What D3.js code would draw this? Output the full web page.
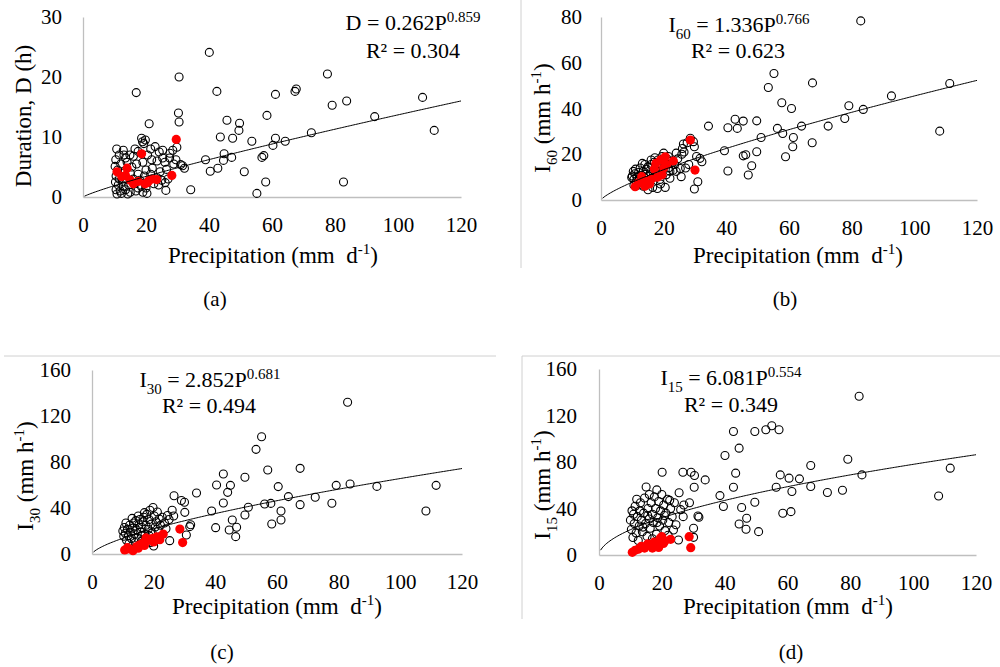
<!DOCTYPE html>
<html>
<meta charset="utf-8">
<style>
    body { margin: 0; background: #fff; }
    svg text, svg tspan { font-family: "Liberation Serif", "Times New Roman", serif !important; fill: #000; }
    .axis path { stroke: #bfbfbf; stroke-width: 1.3; }
    .axis line { display: none; }
    .frame { stroke: #d0d0d0; stroke-width: 1; }
</style>
<body>
<script src="https://d3js.org/d3.v7.min.js"></script>
<script>

    var serif = "'Liberation Serif', 'Times New Roman', serif";

    // tick labels
    var xTicks = [0, 20, 40, 60, 80, 100, 120];
    var yTicksA = [0, 10, 20, 30];
    var yTicksB = [0, 20, 40, 60, 80];
    var yTicksCD = [0, 40, 80, 120, 160];

    // fitted power curves  y = a * P^b
    var coefs = [0.262, 1.336, 2.852, 6.081];
    var expos = [0.859, 0.766, 0.681, 0.554];
    var r2s = ["0.304", "0.623", "0.494", "0.349"];
    var captions = ["(a)", "(b)", "(c)", "(d)"];

    // (a) duration D (h) vs precipitation P (mm/d)
    var ptsA = [[40.1,24.1],[30.5,20.0],[16.9,17.4],[42.5,17.6],[77.6,20.5],[67.3,17.6],[67.7,18.0],[61.1,17.1],
        [107.8,16.6],[83.7,16.0],[79.1,15.3],[92.6,13.4],[58.4,13.6],[30.3,14.0],[30.5,12.5],[45.7,12.8],[49.7,12.3],
        [49.5,11.1],[111.5,11.1],[21.0,12.2],[72.5,10.7],[43.6,10.0],[47.5,9.8],[61.1,9.8],[64.2,9.3],[60.3,8.6],
        [53.6,9.3],[29.8,8.3],[44.8,7.2],[47.2,6.6],[44.6,6.1],[38.9,6.2],[56.8,6.6],[57.4,6.9],[40.4,4.3],[42.8,4.8],
        [51.2,4.2],[31.0,5.4],[32.2,4.8],[31.6,5.2],[58.0,2.5],[82.7,2.5],[34.2,1.2],[55.2,0.6],[26.1,2.4],[26.3,1.1],
        [25.3,6.5],[18.6,9.8],[18.9,9.2],[19.3,8.9],[22.9,8.4],[25.3,7.8],[27.6,7.3],[10.7,8.0],[12.8,7.8],[14.9,7.0],
        [10.4,6.2],[10.2,5.1],[13.5,6.5],[16.0,6.8],[17.5,7.6],[20.5,7.0],[21.8,6.2],[23.5,6.0],[26.0,5.8],[27.5,6.5],
        [28.8,5.5],[29.5,6.2],[12.0,5.5],[14.0,5.8],[15.5,5.0],[17.0,5.5],[19.0,5.8],[20.0,4.5],[22.0,4.8],[24.5,4.2],
        [26.5,4.6],[11.0,4.5],[13.0,4.0],[15.0,4.0],[17.5,3.8],[19.5,3.5],[21.5,3.8],[23.5,3.2],[25.0,2.8],[27.0,3.0],
        [10.5,3.5],[11.5,3.0],[12.5,2.6],[14.0,3.0],[16.0,3.0],[18.0,2.8],[20.5,2.5],[22.5,2.2],[10.3,2.5],[11.2,2.0],
        [12.8,1.8],[14.5,2.0],[16.5,2.2],[18.5,1.8],[20.0,1.5],[10.5,1.2],[11.8,1.0],[13.5,1.2],[15.0,0.8],[16.8,1.0],
        [19.0,0.8],[20.3,0.6],[10.8,0.5],[12.2,0.6],[14.2,0.5],[17.5,1.5],[24.0,2.0],[11.5,7.0],[13.0,7.0],[19.8,9.5],
        [16.5,8.0],[21.5,8.0],[24.2,7.5],[28.5,7.8]];
    var redA = [[29.6,9.6],[18.6,7.2],[14.0,4.8],[10.8,4.2],[12.3,3.4],[28.2,3.6],[23.4,2.9],[22.0,3.0],[19.7,2.2],
        [16.0,2.2],[17.5,2.6],[20.5,2.4],[15.0,2.8],[13.5,3.6],[21.0,2.8]];

    // (b) I60 (mm/h)
    var ptsB = [[82.9,78.3],[55.2,55.3],[53.4,49.2],[67.5,51.2],[111.3,50.9],[92.7,45.5],[57.7,42.5],[60.8,40.0],
        [79.1,41.2],[83.7,39.6],[77.8,35.6],[72.5,32.3],[64.0,32.3],[56.3,31.3],[58.0,29.1],[51.1,27.3],[61.4,27.3],
        [61.2,23.3],[67.4,25.0],[108.1,30.1],[49.7,34.6],[42.8,35.3],[45.4,34.5],[43.5,31.3],[40.5,31.6],[34.3,32.3],
        [39.4,21.5],[49.7,21.1],[58.9,18.9],[45.4,19.3],[46.2,19.8],[48.1,15.0],[47.0,10.9],[40.5,12.7],[31.6,18.2],
        [32.2,16.7],[30.5,19.0],[30.9,8.0],[29.8,4.8],[29.8,23.3],[28.5,27.0],[29.5,25.5],[26.3,24.5],[26.0,22.5],
        [26.5,21.0],[25.8,20.0],[27.5,25.0],[25.3,13.8],[25.6,10.2],[27.0,14.0],[28.0,15.5],
        [10.0,10.5],[10.5,9.0],[10.8,11.5],[11.2,8.0],[11.5,10.0],[12.0,12.0],[12.3,9.0],[12.8,10.8],[13.0,7.5],
        [13.5,12.5],[13.8,9.8],[14.2,11.2],[14.5,13.5],[14.8,8.5],[15.0,14.5],[15.3,10.5],[15.8,12.0],[16.0,15.5],
        [16.3,9.5],[16.8,13.0],[17.0,16.5],[17.4,11.0],[17.8,14.5],[18.2,17.5],[18.5,12.5],[18.8,9.0],[19.0,15.5],
        [19.5,19.0],[19.8,13.5],[20.0,20.5],[20.5,16.0],[20.8,11.0],[21.0,18.0],[21.5,14.0],[22.0,12.5],[22.5,17.0],
        [23.0,13.0],[23.5,15.5],[24.0,12.5],[24.5,18.0],[15.0,4.5],[16.5,5.5],[18.0,5.0],[20.5,5.5],[13.5,6.0],
        [11.8,6.5],[19.0,7.0],[22.0,9.5],[12.5,14.0],[14.0,15.5],[10.3,12.5],[11.0,13.5],[17.2,18.5],[13.2,16.0],
        [16.0,17.5],[21.5,19.0],[24.0,20.5],[9.8,9.8],[10.5,6.5]];
    var redB = [[28.5,26.2],[30.0,13.1],[20.5,18.9],[23.1,17.0],[17.5,16.0],[19.0,17.5],[21.0,15.5],[18.0,10.0],
        [16.0,9.0],[14.5,8.0],[13.0,10.2],[12.0,7.5],[10.9,5.8],[14.0,6.0],[19.5,11.0],[17.0,13.5],[20.0,14.0],[15.5,7.0]];

    // (c) I30 (mm/h)
    var ptsC = [[82.9,131.9],[55.0,102.0],[53.2,91.0],[67.5,74.5],[57.0,73.0],[42.6,69.6],[49.6,66.7],[40.4,60.0],
        [44.9,59.7],[60.4,58.6],[79.2,59.7],[83.7,60.9],[92.4,58.8],[111.6,59.7],[44.0,53.6],[33.9,53.0],[26.6,50.7],
        [63.7,49.9],[72.4,49.3],[29.0,46.5],[30.0,45.0],[42.6,44.3],[50.7,40.6],[56.0,43.5],[58.0,44.0],[67.5,42.9],
        [77.8,44.1],[38.8,37.4],[30.1,36.2],[49.6,33.9],[61.3,37.4],[108.3,37.4],[45.5,29.6],[61.3,29.6],[58.3,26.1],
        [40.1,22.9],[46.9,23.2],[44.5,20.9],[46.6,15.1],[31.7,23.8],[32.0,25.5],[30.6,16.5],[25.2,11.6],[26.0,38.0],
        [26.5,33.0],[25.0,30.0],
        [10.0,20.0],[10.3,15.5],[10.5,23.0],[10.8,18.0],[11.2,12.0],[11.5,21.5],[11.8,16.0],[12.2,25.0],[12.5,19.0],
        [12.8,13.5],[13.2,22.5],[13.5,27.0],[13.8,17.5],[14.2,29.0],[14.5,21.0],[14.8,14.0],[15.2,25.5],[15.5,30.0],
        [15.8,19.0],[16.2,23.0],[16.5,28.0],[16.8,32.0],[17.2,17.0],[17.5,25.0],[17.8,34.5],[18.2,21.5],[18.5,30.0],
        [18.8,38.0],[19.2,26.0],[19.5,18.5],[19.8,40.5],[20.2,33.0],[20.5,23.5],[20.8,28.0],[21.2,36.5],[21.5,20.0],
        [21.8,30.5],[22.2,25.0],[22.8,32.0],[23.5,27.0],[24.0,22.0],[24.5,33.5],[19.0,10.0],[20.0,7.0],[18.0,13.0],
        [16.0,11.0],[22.0,15.0],[14.0,10.0],[12.0,9.0],[11.0,27.0],[13.0,31.0],[15.0,33.0],[17.0,36.0],[16.0,16.0],
        [18.5,16.0]];
    var redC = [[28.5,21.7],[29.4,9.9],[23.1,17.4],[21.0,15.0],[19.5,13.5],[18.5,12.0],[17.5,14.0],[16.5,9.5],
        [15.5,8.0],[14.5,6.5],[13.3,2.9],[12.0,4.5],[10.6,3.5],[11.5,5.5],[20.0,10.5],[17.0,7.5],[15.0,5.0],[22.0,12.5]];

    // (d) I15 (mm/h)
    var ptsD = [[82.8,136.5],[55.0,111.2],[53.1,107.7],[57.3,107.7],[49.6,106.3],[42.8,106.3],[44.6,91.9],[40.1,85.6],
        [79.2,82.4],[67.4,77.0],[111.8,74.7],[20.1,71.2],[26.7,71.2],[29.3,71.2],[30.4,68.4],[43.5,70.4],[57.7,68.9],
        [60.5,66.1],[63.8,65.5],[83.7,68.9],[33.8,64.6],[30.3,58.3],[42.8,58.3],[56.4,58.3],[67.4,58.9],[61.4,54.6],
        [72.7,53.7],[77.5,55.7],[38.5,51.1],[39.6,41.7],[45.4,40.8],[49.6,45.4],[58.5,35.9],[61.1,37.3],[108.1,50.8],
        [44.6,26.7],[47.0,31.6],[46.8,22.1],[50.8,20.1],[31.8,32.5],[31.5,33.5],[30.1,23.0],[30.1,15.2],[25.3,12.9],
        [23.7,21.5],[26.0,39.0],[26.8,33.0],[25.5,53.5],[28.8,45.0],[27.0,43.0],[22.5,47.0],
        [10.0,30.0],[10.3,22.0],[10.5,38.0],[10.8,15.0],[11.2,27.0],[11.5,42.0],[11.8,19.0],[12.2,33.0],[12.5,12.5],
        [12.8,25.0],[13.2,45.0],[13.5,30.0],[13.8,20.0],[14.2,36.0],[14.5,49.0],[14.8,27.0],[15.0,58.5],[15.3,16.0],
        [15.6,40.0],[16.0,31.0],[16.3,23.0],[16.6,45.0],[17.0,35.0],[17.3,28.0],[17.6,50.0],[18.0,40.0],[18.3,18.0],
        [18.4,56.0],[18.7,32.0],[19.0,46.0],[19.3,25.0],[19.6,38.0],[20.0,52.0],[20.3,30.0],[20.6,43.0],[21.0,21.0],
        [21.3,36.0],[21.8,48.0],[22.2,28.0],[22.8,40.0],[23.3,33.0],[24.0,45.0],[24.5,26.0],[12.0,48.0],[11.0,35.0],
        [13.0,38.0],[16.0,52.0],[14.0,24.0],[17.0,14.0],[19.5,12.0],[22.0,17.0],[15.5,34.0],[18.5,28.0],[20.8,34.0]];
    var redD = [[28.7,15.8],[29.2,6.3],[20.0,15.8],[22.8,13.5],[21.0,12.0],[19.5,14.5],[18.5,9.0],[17.5,11.0],
        [16.5,8.0],[15.5,9.5],[14.5,6.0],[13.5,7.5],[12.5,5.0],[11.5,4.0],[10.6,2.3],[19.0,6.5],[17.0,6.0],[20.5,10.0]];

    var width = 1000, height = 667;

    var svg = d3.select("body").append("svg")
        .attr("width", width)
        .attr("height", height)
        .style("font-family", serif);

    // layout of the four panels (page pixels)
    var panels = [
        {pts: ptsA, red: redA, yTicks: yTicksA, yMax: 30, l: 83, r: 461, t: 17, b: 197, pad: 21,
         eq: [413, 30], rsq: [413, 58], xt: [273, 263], yt: [31, 116], cap: [215, 306],
         name: [["D", ""]], yTitle: [["Duration, D (h)", ""]]},
        {pts: ptsB, red: redB, yTicks: yTicksB, yMax: 80, l: 601, r: 977, t: 17, b: 200, pad: 19,
         eq: [739, 32], rsq: [738, 58], xt: [798, 263], yt: [550, 118], cap: [785, 306],
         name: [["I", ""], ["60", "sub"]], yTitle: [["I", ""], ["60", "sub"], [" (mm h", ""], ["-1", "sup"], [")", ""]]},
        {pts: ptsC, red: redC, yTicks: yTicksCD, yMax: 160, l: 92, r: 462, t: 370, b: 554, pad: 21,
         eq: [210, 387], rsq: [209, 413], xt: [277, 614], yt: [33, 476], cap: [222, 659],
         name: [["I", ""], ["30", "sub"]], yTitle: [["I", ""], ["30", "sub"], [" (mm h", ""], ["-1", "sup"], [")", ""]]},
        {pts: ptsD, red: redD, yTicks: yTicksCD, yMax: 160, l: 599, r: 976, t: 369, b: 555, pad: 22,
         eq: [731, 385], rsq: [731, 412], xt: [788, 614], yt: [550, 485], cap: [791, 659],
         name: [["I", ""], ["15", "sub"]], yTitle: [["I", ""], ["15", "sub"], [" (mm h", ""], ["-1", "sup"], [")", ""]]}
    ];

    // text with sub/superscript pieces
    function rich(sel, parts, size) {
        var shift = 0;
        parts.forEach(function(p) {
            var target = p[1] == "sub" ? size * 0.3 : p[1] == "sup" ? -size * 0.38 : 0;
            var t = sel.append("tspan").text(p[0]).attr("dy", target - shift)
                .style("font-family", serif);
            if (p[1]) t.style("font-size", Math.round(size * 0.66) + "px");
            shift = target;
        });
    }

    // light frame lines from the figure layout
    var frames = [[521, 0, 521, 268], [4, 356, 496, 356], [522, 356, 1000, 356], [522, 356, 522, 619]];
    svg.selectAll(".frame").data(frames).enter().append("line")
        .attr("class", "frame")
        .attr("x1", function(d) { return d[0]; }).attr("y1", function(d) { return d[1]; })
        .attr("x2", function(d) { return d[2]; }).attr("y2", function(d) { return d[3]; });

    function styleTicks(a) {
        a.attr("font-family", serif).attr("font-size", 21);
        a.selectAll("text").style("font-family", serif).style("font-size", "21px");
    }

    panels.forEach(function(p, i) {
        var x = d3.scaleLinear().domain([0, 120]).range([p.l, p.r]);
        var y = d3.scaleLinear().domain([0, p.yMax]).range([p.b, p.t]);
        var g = svg.append("g");

        g.append("g")
            .attr("class", "axis")
            .attr("transform", "translate(0," + p.b + ")")
            .call(d3.axisBottom(x).tickValues(xTicks).tickSize(0).tickSizeOuter(0).tickPadding(20))
            .call(styleTicks);

        g.append("g")
            .attr("class", "axis")
            .attr("transform", "translate(" + p.l + ",0)")
            .call(d3.axisLeft(y).tickValues(p.yTicks).tickSize(0).tickSizeOuter(0).tickPadding(p.pad))
            .call(styleTicks);

        g.selectAll(".open").data(p.pts).enter().append("circle")
            .attr("class", "open")
            .attr("cx", function(d) { return x(d[0]); })
            .attr("cy", function(d) { return y(d[1]); })
            .attr("r", 4)
            .attr("fill", "none")
            .attr("stroke", "#000")
            .attr("stroke-width", 1.1);

        g.selectAll(".red").data(p.red).enter().append("circle")
            .attr("class", "red")
            .attr("cx", function(d) { return x(d[0]); })
            .attr("cy", function(d) { return y(d[1]); })
            .attr("r", 4.6)
            .attr("fill", "#ff0000");

        var line = d3.line()
            .x(function(P) { return x(P); })
            .y(function(P) { return y(coefs[i] * Math.pow(P, expos[i])); });
        g.append("path")
            .datum(d3.range(0.5, 120.01, 0.5))
            .attr("d", line)
            .attr("fill", "none")
            .attr("stroke", "#000")
            .attr("stroke-width", 1);

        var eq = g.append("text").attr("x", p.eq[0]).attr("y", p.eq[1])
            .attr("text-anchor", "middle").style("font-size", "22px");
        rich(eq, p.name.concat([[" = " + coefs[i].toFixed(3) + "P", ""], [expos[i].toFixed(3), "sup"]]), 22);

        g.append("text").attr("x", p.rsq[0]).attr("y", p.rsq[1])
            .attr("text-anchor", "middle").style("font-size", "22px")
            .text("R\u00b2 = " + r2s[i]);

        var xt = g.append("text").attr("x", p.xt[0]).attr("y", p.xt[1])
            .attr("text-anchor", "middle").style("font-size", "23px");
        rich(xt, [["Precipitation (mm\u00a0 d", ""], ["-1", "sup"], [")", ""]], 23);

        var yt = g.append("text")
            .attr("transform", "translate(" + p.yt[0] + "," + p.yt[1] + ") rotate(-90)")
            .attr("text-anchor", "middle").style("font-size", "23px");
        rich(yt, p.yTitle, 23);

        g.append("text").attr("x", p.cap[0]).attr("y", p.cap[1])
            .attr("text-anchor", "middle").style("font-size", "21px")
            .text(captions[i]);
    });

</script>
</html>
